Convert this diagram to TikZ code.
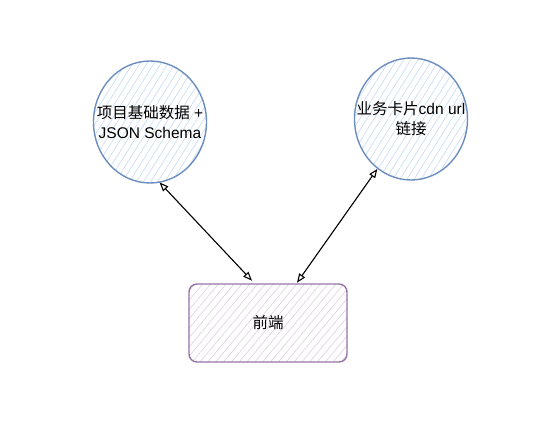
\documentclass[tikz,border=0pt]{standalone}
\usepackage{fontspec}
\setmainfont{Liberation Sans}
\newfontfamily\cjk{Noto Sans CJK SC}
\usetikzlibrary{shapes.geometric,arrows.meta,patterns.meta}
\definecolor{blueline}{HTML}{6C8EBF}
\definecolor{bluehatch}{HTML}{C4DAF5}
\definecolor{purpleline}{HTML}{9673A6}
\definecolor{purplehatch}{HTML}{DCCDE4}
\tikzset{
  source/.style={ellipse,draw=blueline,line width=1.4pt,
    minimum width=113pt,minimum height=122pt,inner xsep=-22pt,inner ysep=0pt,align=center,
    pattern={Lines[angle=58,distance=6pt,line width=0.6pt]},pattern color=bluehatch},
  client/.style={rectangle,rounded corners=8pt,draw=purpleline,line width=1.4pt,
    minimum width=158pt,minimum height=78pt,align=center,
    pattern={Lines[angle=50,distance=6pt,line width=0.6pt]},pattern color=purplehatch},
  link/.style={line width=1.1pt,{Triangle[open,length=9pt,width=7pt]}-{Triangle[open,length=9pt,width=7pt]}}
}
\begin{document}
\begin{tikzpicture}
    [x=1pt,y=-1pt,font=\fontsize{15.5}{20}\selectfont]
    \useasboundingbox (0,0) rectangle (552,423);
    %data sources
    \node[source] (data) at (150,122) {{\cjk 项目基础数据} +\\JSON Schema};
    \node[source] (card) at (411,119) {{\cjk 业务卡片}cdn url\\{\cjk 链接}};
    %front end
    \node[client] (front) at (268,323) {\cjk 前端};
    %links
    \draw[link] (data.-81) -- ([xshift=-16pt,yshift=3pt]front.north);
    \draw[link] (card.-124) -- ([xshift=29pt,yshift=1pt]front.north);
\end{tikzpicture}
\end{document}
